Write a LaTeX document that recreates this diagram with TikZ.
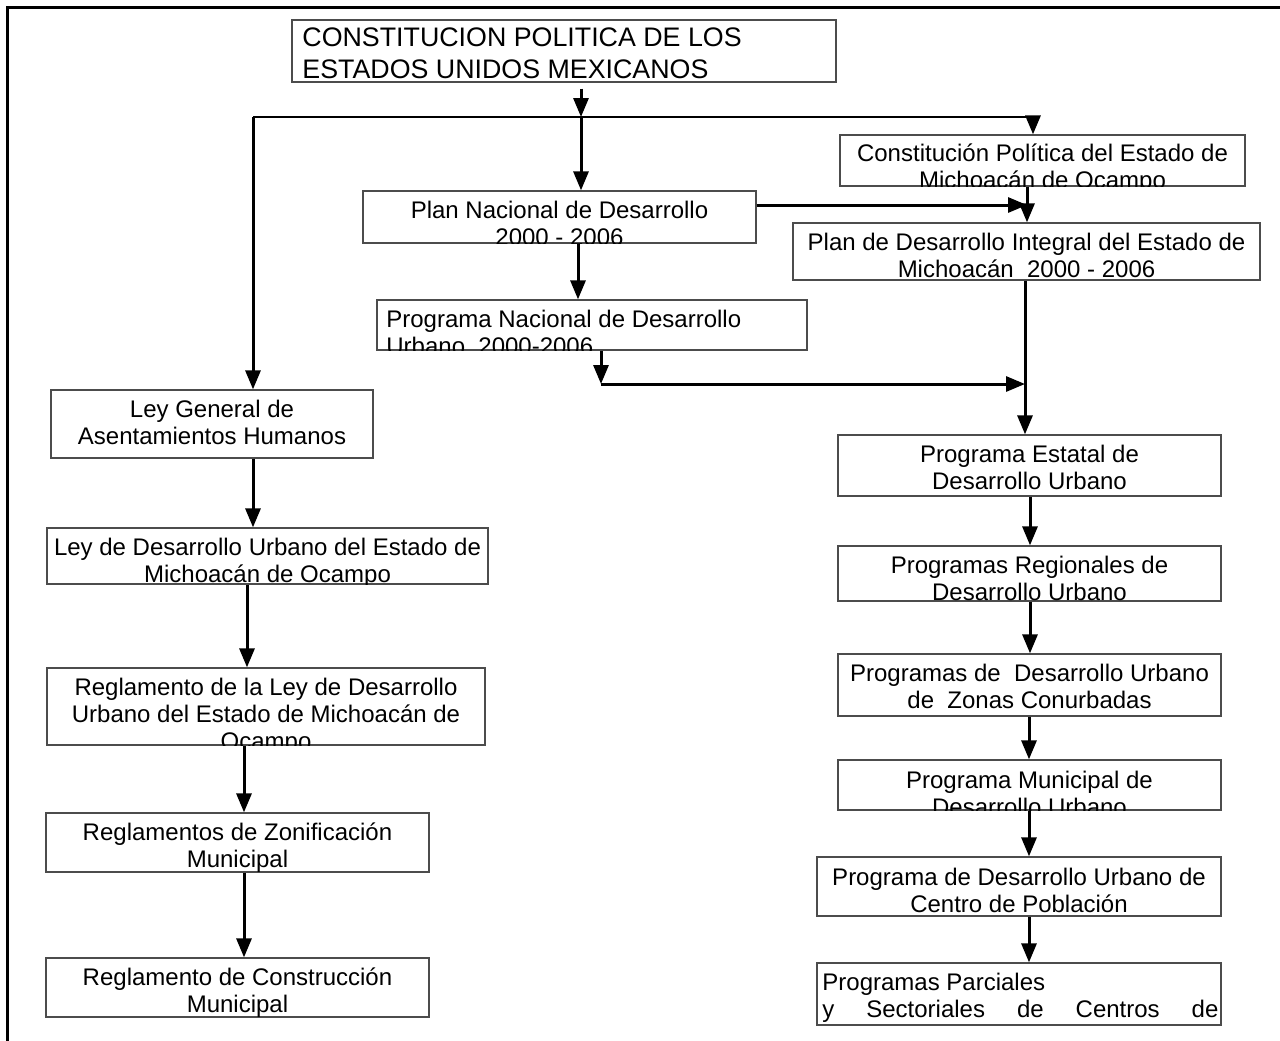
\documentclass[tikz,border=0pt]{standalone}
\usepackage{fontspec}
\setmainfont{Liberation Sans}
\usetikzlibrary{arrows.meta,fit}
\newcommand\cbox[6]{%
  \node[box, fit={#2 #3}] (#1) {};
  \begin{scope}
    \clip (#1.south west) rectangle (#1.north east);
    \node[#5] (#1t) at #4 {\strut #6};
  \end{scope}}
\begin{document}
\begin{tikzpicture}[x=0.5pt,y=-0.5pt,
  box/.style={draw=black!70, line width=0.65pt, inner sep=0pt, rectangle},
  txt/.style={inner sep=0pt, font=\fontsize{12}{13.5}\selectfont, align=center, anchor=north},
  ltxt/.style={txt, align=left, anchor=north west},
  bigtxt/.style={ltxt, font=\fontsize{13.4}{16}\selectfont},
  arr/.style={line width=1.5pt, -{Triangle[length=9.5pt,width=7.5pt]}},
  hline/.style={line width=0.7pt},
  frame/.style={line width=1.5pt, line cap=rect}]
\useasboundingbox (0,0) rectangle (1280,1040);
\draw[frame] (7,1040) -- (7,7) -- (1280,7);

% boxes
\cbox{cpeum}{(292,20)}{(836,82)}{(302,24)}{bigtxt}{CONSTITUCION POLITICA DE LOS\\ESTADOS UNIDOS MEXICANOS}
\cbox{ce}{(840,135)}{(1245,186)}{(1042.5,142.5)}{txt}{Constitución Política del Estado de\\Michoacán de Ocampo}
\cbox{pn}{(363,191)}{(756,243)}{(559.5,199)}{txt}{Plan Nacional de Desarrollo\\2000 - 2006}
\cbox{pd}{(793,223)}{(1260,280)}{(1026.5,231)}{txt}{Plan de Desarrollo Integral del Estado de\\Michoacán\ \ 2000 - 2006}
\cbox{prn}{(377,300)}{(807,350)}{(386,308)}{ltxt}{Programa Nacional de Desarrollo\\Urbano\ \ 2000-2006}
\cbox{lg}{(51,390)}{(373,458)}{(212,398)}{txt}{Ley General de\\Asentamientos Humanos}
\cbox{ld}{(47,528)}{(488,584)}{(267.5,536)}{txt}{Ley de Desarrollo Urbano del Estado de\\Michoacán de Ocampo}
\cbox{rl}{(47,668)}{(485,745)}{(266,676)}{txt}{Reglamento de la Ley de Desarrollo\\Urbano del Estado de Michoacán de\\Ocampo}
\cbox{rz}{(46,813)}{(429,872)}{(237.5,821)}{txt}{Reglamentos de Zonificación\\Municipal}
\cbox{rc}{(46,958)}{(429,1017)}{(237.5,966)}{txt}{Reglamento de Construcción\\Municipal}
\cbox{pe}{(838,435)}{(1221,496)}{(1029.5,443)}{txt}{Programa Estatal de\\Desarrollo Urbano}
\cbox{pr}{(838,546)}{(1221,601)}{(1029.5,554)}{txt}{Programas Regionales de\\Desarrollo Urbano}
\cbox{pz}{(838,654)}{(1221,716)}{(1029.5,662)}{txt}{Programas de\ \ Desarrollo Urbano\\de\ \ Zonas Conurbadas}
\cbox{pm}{(838,760)}{(1221,810)}{(1029.5,769)}{txt}{Programa Municipal de\\Desarrollo Urbano}
\cbox{pc}{(817,857)}{(1221,916)}{(1019,866)}{txt}{Programa de Desarrollo Urbano de\\Centro de Población}
\cbox{pp}{(817,963)}{(1221,1025)}{(822,971)}{ltxt}{Programas Parciales\\\hbox to 198pt{y\hfill Sectoriales\hfill de\hfill Centros\hfill de}}

% junction coordinates
\coordinate (j0) at (581,117);
\coordinate (jL) at (253,117);
\coordinate (jR) at (1033,117);
\coordinate (jP) at (1027,205);
\coordinate (jQ) at (601,384);
\coordinate (jS) at (1025,384);
\coordinate (xPN) at (578,0);
\coordinate (xCE) at (1027,0);
\coordinate (xPD) at (1025,0);
\coordinate (xL1) at (253,0);
\coordinate (xL2) at (247,0);
\coordinate (xL3) at (244,0);
\coordinate (xR1) at (1030,0);
\coordinate (xR2) at (1029,0);

% connectors
\draw[hline] (jL) -- (jR);
\draw[arr, shorten <=3pt] (cpeum.south -| j0) -- (j0);
\draw[arr] (j0) -- (pn.north -| j0);
\draw[arr] (jL) -- (lg.north -| jL);
\draw[arr] (jR) -- (ce.north -| jR);
\draw[arr] (ce.south -| xCE) -- (pd.north -| xCE);
\draw[arr] (pn.east |- jP) -- (jP);
\draw[arr] (pn.south -| xPN) -- (prn.north -| xPN);
\draw[arr] (prn.south -| jQ) -- (jQ);
\draw[arr] (jQ) -- (jS);
\draw[arr] (pd.south -| xPD) -- (pe.north -| xPD);
\draw[arr] (lg.south -| xL1) -- (ld.north -| xL1);
\draw[arr] (ld.south -| xL2) -- (rl.north -| xL2);
\draw[arr] (rl.south -| xL3) -- (rz.north -| xL3);
\draw[arr] (rz.south -| xL3) -- (rc.north -| xL3);
\draw[arr] (pe.south -| xR1) -- (pr.north -| xR1);
\draw[arr] (pr.south -| xR1) -- (pz.north -| xR1);
\draw[arr] (pz.south -| xR2) -- (pm.north -| xR2);
\draw[arr] (pm.south -| xR2) -- (pc.north -| xR2);
\draw[arr] (pc.south -| xR2) -- (pp.north -| xR2);
\end{tikzpicture}
\end{document}
